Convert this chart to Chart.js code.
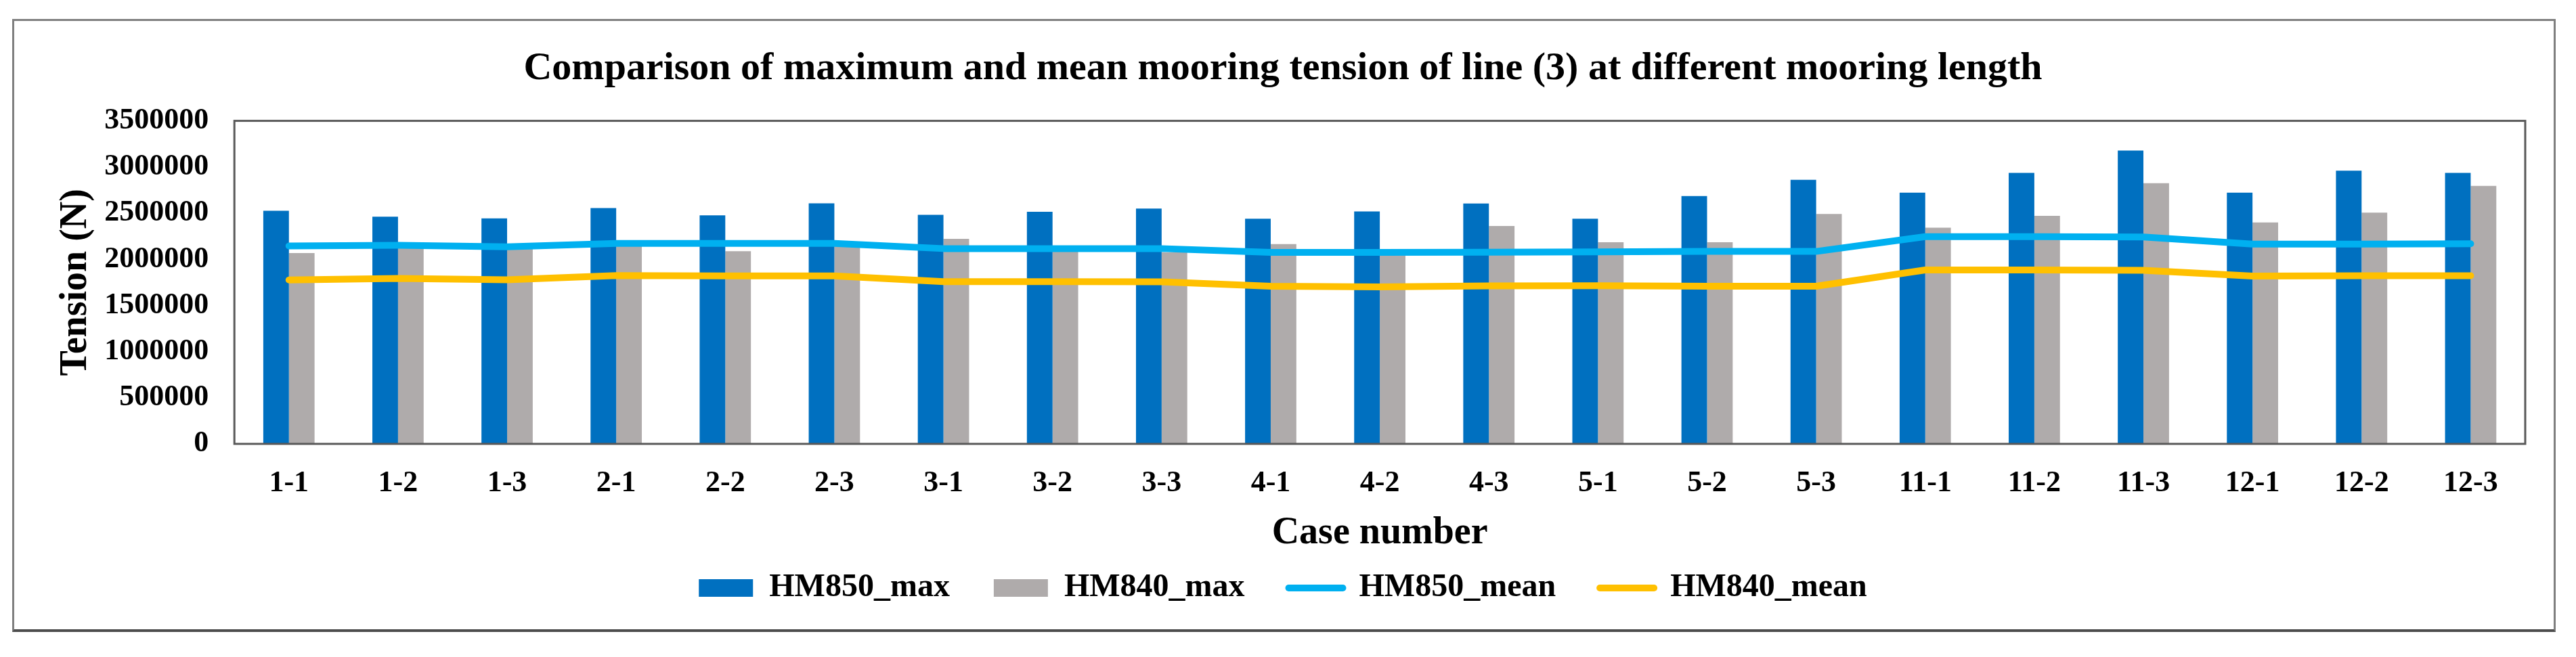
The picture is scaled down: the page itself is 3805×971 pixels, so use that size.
<!DOCTYPE html>
<html>
<head>
<meta charset="utf-8">
<script src="https://cdn.jsdelivr.net/npm/chart.js@4.4.0/dist/chart.umd.min.js"></script>
<style>
    html, body { margin: 0; padding: 0; background: #fff; }
    #wrap { position: relative; width: 3805px; height: 971px; }
    #frame {
        position: absolute; left: 18px; top: 28px; width: 3757px; height: 906px;
        box-sizing: border-box; border: 3px solid #7f7f7f; border-bottom: 4px solid #4d4d4d;
        pointer-events: none;
    }
    canvas { position: absolute; left: 0; top: 0; }
</style>
</head>
<body>
<div id="wrap">
    <canvas id="myChart" width="3805" height="971"></canvas>
    <div id="frame"></div>
</div>
<script>
// 데이터
const cases = ['1-1', '1-2', '1-3', '2-1', '2-2', '2-3', '3-1', '3-2', '3-3', '4-1', '4-2',
    '4-3', '5-1', '5-2', '5-3', '11-1', '11-2', '11-3', '12-1', '12-2', '12-3'];
const hm850Max = [2526000, 2462000, 2443000, 2555000, 2477000, 2607000, 2482000, 2514000, 2550000, 2440000, 2519000,
    2604000, 2440000, 2685000, 2861000, 2721000, 2936000, 3178000, 2721000, 2960000, 2936000];
const hm840Max = [2068000, 2178000, 2130000, 2160000, 2087000, 2140000, 2221000, 2095000, 2075000, 2165000, 2040000,
    2360000, 2184000, 2184000, 2490000, 2343000, 2470000, 2824000, 2399000, 2506000, 2795000];
const hm850Mean = [2145000, 2152000, 2135000, 2172000, 2172000, 2172000, 2116000, 2116000, 2116000, 2075000, 2075000,
    2077000, 2080000, 2085000, 2085000, 2245000, 2245000, 2242000, 2165000, 2165000, 2168000];
const hm840Mean = [1776000, 1792000, 1777000, 1823000, 1820000, 1820000, 1757000, 1757000, 1755000, 1708000, 1700000,
    1712000, 1713000, 1708000, 1708000, 1884000, 1884000, 1880000, 1818000, 1822000, 1822000];
const yTicks = [0, 500000, 1000000, 1500000, 2000000, 2500000, 3000000, 3500000];

const serif = 'Liberation Serif';

// 플롯 영역 테두리
const plotBox = {
    id: 'plotBox',
    afterDatasetsDraw(chart) {
        const {ctx, chartArea} = chart;
        ctx.save();
        ctx.strokeStyle = '#595959';
        ctx.lineWidth = 3;
        ctx.strokeRect(chartArea.left, chartArea.top, chartArea.right - chartArea.left, chartArea.bottom - chartArea.top);
        ctx.restore();
    }
};

const data = {
    labels: cases,
    datasets: [{
        type: 'bar',
        label: 'HM850_max',
        data: hm850Max,
        backgroundColor: '#0070C0',
        order: 2
    },
    {
        type: 'bar',
        label: 'HM840_max',
        data: hm840Max,
        backgroundColor: '#AFABAB',
        order: 2
    },
    {
        type: 'line',
        label: 'HM850_mean',
        data: hm850Mean,
        borderColor: '#00B0F0',
        backgroundColor: '#00B0F0',
        borderWidth: 10,
        borderCapStyle: 'round',
        borderJoinStyle: 'round',
        pointRadius: 0,
        tension: 0,
        fill: false,
        order: 1
    },
    {
        type: 'line',
        label: 'HM840_mean',
        data: hm840Mean,
        borderColor: '#FFC000',
        backgroundColor: '#FFC000',
        borderWidth: 10,
        borderCapStyle: 'round',
        borderJoinStyle: 'round',
        pointRadius: 0,
        tension: 0,
        fill: false,
        order: 1
    }]
};

const ctx = document.getElementById('myChart').getContext('2d');
const myChart = new Chart(ctx, {
    type: 'bar',
    data: data,
    plugins: [plotBox],
    options: {
        responsive: false,
        animation: false,
        devicePixelRatio: 1,
        layout: { padding: { top: 33, left: 60, right: 75, bottom: 68 } },
        datasets: {
            bar: { categoryPercentage: 0.47, barPercentage: 1.0 }
        },
        scales: {
            x: {
                grid: { display: false, drawTicks: true, tickLength: 32 },
                border: { display: false },
                ticks: {
                    padding: 0, color: '#000', maxRotation: 0, autoSkip: false,
                    font: { family: serif, size: 44, weight: 'bold' }
                },
                title: {
                    display: true, text: 'Case number', color: '#000',
                    font: { family: serif, size: 56, weight: 'bold' },
                    padding: { top: 14, bottom: -42 }
                }
            },
            y: {
                min: 0,
                max: 3500000,
                grid: { display: false, drawTicks: true, tickLength: 38 },
                border: { display: false },
                afterBuildTicks: (scale) => { scale.ticks = yTicks.map(v => ({ value: v })); },
                ticks: {
                    padding: 0, color: '#000',
                    font: { family: serif, size: 44, weight: 'bold' },
                    callback: (v) => String(v)
                },
                title: {
                    display: true, text: 'Tension (N)', color: '#000',
                    font: { family: serif, size: 56, weight: 'bold' },
                    padding: { top: 19, bottom: 8 }
                }
            }
        },
        plugins: {
            title: {
                display: true,
                text: 'Comparison of maximum and mean mooring tension of line (3) at different mooring length',
                color: '#000',
                font: { family: serif, size: 58, weight: 'bold' },
                padding: { top: 34, bottom: 42 }
            },
            legend: {
                position: 'bottom',
                labels: {
                    color: '#000',
                    font: { family: serif, size: 48, weight: 'bold' },
                    usePointStyle: true,
                    pointStyleWidth: 80,
                    boxHeight: 26,
                    padding: 65,
                    sort: (a, b) => a.datasetIndex - b.datasetIndex,
                    generateLabels: (chart) => {
                        const items = Chart.defaults.plugins.legend.labels.generateLabels(chart);
                        items.forEach((it) => {
                            const ds = chart.data.datasets[it.datasetIndex];
                            if (ds.type === 'line') {
                                it.pointStyle = 'line';
                                it.strokeStyle = ds.borderColor;
                                it.lineWidth = 10;
                                it.lineCap = 'round';
                            } else {
                                it.pointStyle = 'rect';
                                it.fillStyle = ds.backgroundColor;
                                it.lineWidth = 0;
                            }
                        });
                        return items;
                    }
                }
            },
            tooltip: { enabled: false }
        }
    }
});
</script>
</body>
</html>
